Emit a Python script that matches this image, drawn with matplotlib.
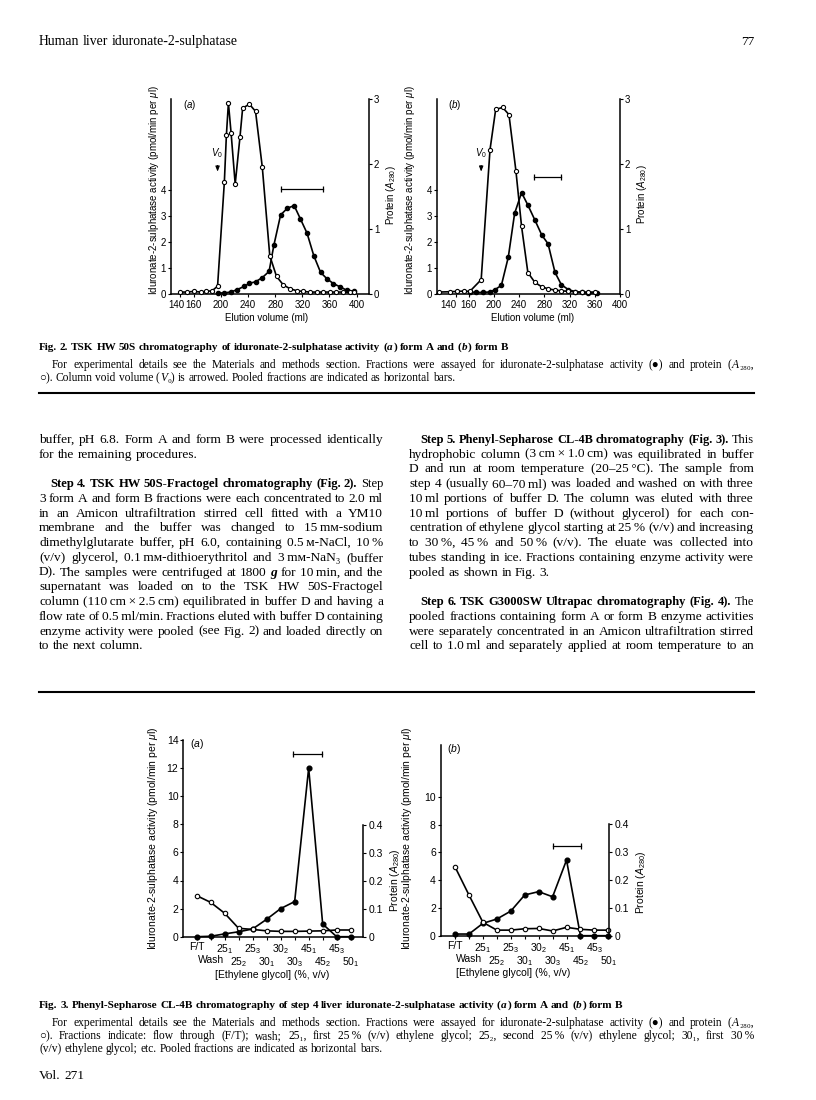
import matplotlib
matplotlib.use("Agg")
import matplotlib.pyplot as plt
from matplotlib.lines import Line2D
from matplotlib.transforms import ScaledTranslation

# ---------------- data ----------------
# Fig. 2(a) form A, TSK HW 50S, elution volume (ml)
vol_prot_a = [140, 150, 160, 170, 178, 187, 195, 205, 208, 211, 215, 221, 228, 232,
              242, 251, 261, 272, 282, 292, 302, 312, 321, 331, 341, 351, 361, 370,
              380, 390, 396]
prot_a = [0.03, 0.03, 0.04, 0.03, 0.04, 0.05, 0.12, 1.72, 2.44, 2.94, 2.47, 1.69, 2.41, 2.86,
          2.92, 2.81, 1.95, 0.59, 0.27, 0.14, 0.08, 0.05, 0.04, 0.03, 0.03, 0.03, 0.03, 0.03,
          0.03, 0.03, 0.03]
vol_act_a = [195, 205, 215, 224, 234, 242, 251, 261, 271, 278, 288, 298, 308, 317, 327,
             337, 347, 357, 366, 376, 386, 396]
act_a = [0.04, 0.04, 0.08, 0.17, 0.29, 0.41, 0.47, 0.63, 0.87, 1.87, 3.04, 3.30, 3.40, 2.90,
         2.34, 1.47, 0.83, 0.57, 0.40, 0.27, 0.14, 0.11]
pool_a = [289, 350]
v0_a = 195

# Fig. 2(b) form B
vol_prot_b = [113, 131, 142, 152, 162, 180, 194, 203, 214, 224, 235, 244, 254, 265, 276,
              286, 297, 307, 318, 329, 339, 350, 360]
prot_b = [0.03, 0.035, 0.04, 0.045, 0.04, 0.22, 2.22, 2.84, 2.87, 2.76, 1.90, 1.04, 0.33,
          0.18, 0.11, 0.08, 0.06, 0.05, 0.04, 0.035, 0.03, 0.03, 0.03]
vol_act_b = [162, 172, 183, 194, 202, 212, 223, 233, 244, 254, 265, 276, 286, 297, 307,
             318, 329, 339, 350, 363]
act_b = [0.08, 0.06, 0.06, 0.08, 0.17, 0.33, 1.42, 3.10, 3.90, 3.42, 2.85, 2.27, 1.93, 0.83,
         0.36, 0.17, 0.09, 0.06, 0.04, 0.04]
pool_b = [264, 307]
v0_b = 180
vol_ticks = [140, 160, 200, 240, 280, 320, 360, 400]

# Fig. 3 Phenyl-Sepharose fractions
fractions = ["F/T", "Wash", "25$_1$", "25$_2$", "25$_3$", "30$_1$", "30$_2$", "30$_3$",
             "45$_1$", "45$_2$", "45$_3$", "50$_1$"]
act_3a = [0.0, 0.03, 0.2, 0.35, 0.55, 1.24, 2.0, 2.5, 12.0, 0.9, 0.0, 0.0]
prot_3a = [0.147, 0.123, 0.084, 0.03, 0.026, 0.021, 0.019, 0.019, 0.02, 0.021, 0.024, 0.024]
pool_3a = [6.9, 8.93]
act_3b = [0.12, 0.12, 0.89, 1.2, 1.77, 2.93, 3.17, 2.8, 5.44, 0.0, 0.0, 0.0]
prot_3b = [0.247, 0.146, 0.048, 0.02, 0.02, 0.025, 0.026, 0.017, 0.03, 0.023, 0.02, 0.02]
pool_3b = [7.05, 9.05]

# ---------------- page setup ----------------
W, H = 816, 1100
plt.rcParams['font.family'] = ['Liberation Sans', 'DejaVu Sans']
plt.rcParams['mathtext.fontset'] = 'custom'
plt.rcParams['mathtext.rm'] = 'Liberation Sans'
plt.rcParams['mathtext.it'] = 'Liberation Sans:italic'
plt.rcParams['mathtext.bf'] = 'Liberation Sans:bold'
SERIF = ['Liberation Serif', 'DejaVu Serif', 'DejaVu Sans']

fig = plt.figure(figsize=(W / 100, H / 100), dpi=100)
renderer = fig.canvas.get_renderer()


def box(x0, y0, x1, y1):
    return [x0 / W, 1 - y1 / H, (x1 - x0) / W, (y1 - y0) / H]


def ptext(x, y, s, **kw):
    return fig.text(x / W, 1 - y / H, s, **kw)


YLAB = "Iduronate-2-sulphatase activity (pmol/min per $\\mu$l)"
PLAB = "Protein ($A_{280}$)"


def style_axes(ax, ax2, size):
    for a in (ax, ax2):
        a.spines['top'].set_visible(False)
        for s in a.spines.values():
            s.set_linewidth(1.1)
        a.tick_params(direction='out', length=2.5, width=0.8, labelsize=size, pad=1)
    ax.spines['right'].set_visible(False)
    ax2.spines['left'].set_visible(False)
    ax2.spines['bottom'].set_visible(False)


def elution_panel(x0, x1, xlim, vol_p, prot, vol_a, act, pool, pool_y, v0, letter, nudge):
    ax = fig.add_axes(box(x0, 99, x1, 294))
    ax2 = ax.twinx()
    ax.set_xlim(*xlim)
    ax.set_ylim(0, 7.5)
    ax2.set_ylim(0, 3)
    ax.plot(vol_a, act, '-o', color='black', lw=1.2, ms=3.0, zorder=3, clip_on=False)
    ax2.plot(vol_p, prot, '-o', color='black', lw=1.2, ms=3.0, mfc='white', mew=0.8,
             clip_on=False)
    ax.plot(pool, [pool_y, pool_y], color='black', lw=0.9, marker='|', ms=4, mew=0.9)
    ax.annotate('', xy=(v0, 4.6), xytext=(v0, 5.05),
                arrowprops=dict(arrowstyle='-|>,head_width=0.12,head_length=0.3',
                                color='black', lw=0.8))
    ax.text(v0 - 1, 5.15, '$V_0$', ha='center', va='bottom', fontsize=7)
    ax.set_xticks(vol_ticks)
    ax.set_yticks([0, 1, 2, 3, 4])
    ax2.set_yticks([0, 1, 2, 3])
    style_axes(ax, ax2, 7)
    ax.tick_params(axis='x', pad=1.5)
    # the first volume label sits a little left of its tick on the page
    lab = ax.xaxis.get_major_ticks()[0].label1
    lab.set_transform(lab.get_transform() + ScaledTranslation(-nudge / 100, 0, fig.dpi_scale_trans))
    ax.text(0.06, 0.97, '($\\mathit{' + letter + '}$)', transform=ax.transAxes,
            fontsize=7, va='center', ha='left')
    return ax


elution_panel(171, 369, (126.3, 418.4), vol_prot_a, prot_a, vol_act_a, act_a,
              pool_a, 4.04, v0_a, 'a', 4)
elution_panel(437, 620, (110, 400), vol_prot_b, prot_b, vol_act_b, act_b,
              pool_b, 4.51, v0_b, 'b', 8)

for x, y, s in [(154, 190, YLAB), (410, 190, YLAB), (391, 195, PLAB), (642, 194, PLAB)]:
    ptext(x, y, s, rotation=90, ha='center', va='center', fontsize=7)
ptext(267, 318, 'Elution volume (ml)', ha='center', va='center', fontsize=7)
ptext(533, 318, 'Elution volume (ml)', ha='center', va='center', fontsize=7)


def glycol_panel(x0, x1, y0, y1, xlim, act, prot, pool, pool_y, ltop, lticks, rtop, letter):
    ax = fig.add_axes(box(x0, y0, x1, y1))
    ax2 = ax.twinx()
    idx = list(range(len(fractions)))
    ax.set_xlim(*xlim)
    ax.set_ylim(0, ltop)
    ax2.set_ylim(0, rtop)
    ax.plot(idx, act, '-o', color='black', lw=1.2, ms=3.4, zorder=3, clip_on=False)
    ax2.plot(idx, prot, '-o', color='black', lw=1.2, ms=3.2, mfc='white', mew=0.8,
             clip_on=False)
    ax.plot(pool, [pool_y, pool_y], color='black', lw=0.9, marker='|', ms=4, mew=0.9)
    # fraction labels alternate between two rows
    ax.set_xticks(idx[0::2])
    ax.set_xticklabels(fractions[0::2])
    ax.set_xticks(idx[1::2], minor=True)
    ax.set_xticklabels(fractions[1::2], minor=True)
    ax.set_yticks(lticks)
    ax2.set_yticks([0, 0.1, 0.2, 0.3, 0.4])
    ax2.set_yticklabels(['0', '0.1', '0.2', '0.3', '0.4'])
    style_axes(ax, ax2, 7.5)
    ax.tick_params(axis='x', which='major', length=2, pad=2)
    ax.tick_params(axis='x', which='minor', length=2, width=0.8, pad=11.3, labelsize=7.5,
                   direction='out')
    ax2.spines['right'].set_bounds(0, 0.4)
    ax.text(0.04, 0.98, '($\\mathit{' + letter + '}$)', transform=ax.transAxes,
            fontsize=7.5, va='center', ha='left')
    return ax


glycol_panel(183.3, 363.3, 740, 936.7, (-0.95, 11.9), act_3a, prot_3a, pool_3a, 12.98,
             14, [0, 2, 4, 6, 8, 10, 12, 14], 0.704, 'a')
glycol_panel(440.7, 609.3, 745, 935.7, (-1.03, 11.07), act_3b, prot_3b, pool_3b, 6.47,
             13.72, [0, 2, 4, 6, 8, 10], 0.685, 'b')

for x, y, s in [(153, 838, YLAB), (407, 838, YLAB), (395, 880, PLAB), (641, 882, PLAB)]:
    ptext(x, y, s, rotation=90, ha='center', va='center', fontsize=7.5)
ptext(272, 975, '[Ethylene glycol] (%, v/v)', ha='center', va='center', fontsize=7.5)
ptext(513, 973, '[Ethylene glycol] (%, v/v)', ha='center', va='center', fontsize=7.5)

# ---------------- typeset text ----------------
_wcache = {}


def style_kw(st):
    return dict(fontweight='bold' if 'b' in st else 'normal',
                fontstyle='italic' if 'i' in st else 'normal')


def piece_width(p, size, st):
    key = (p, size, st)
    if key not in _wcache:
        t = fig.text(0, 0, p, fontsize=size, family=SERIF, **style_kw(st))
        _wcache[key] = t.get_window_extent(renderer).width
        t.remove()
    return _wcache[key]


def split_words(runs):
    words = [[]]
    for s, st in runs:
        for j, p in enumerate(s.split(' ')):
            if j:
                words.append([])
            if p:
                words[-1].append((p, st))
    return [w for w in words if w]


def word_width(w, size):
    em = size * 100 / 72
    return sum(piece_width(p, size, st) for p, st in w) + 0.04 * em * (len(w) - 1)


def natural_width(runs, size, space=0.25):
    words = split_words(runs)
    em = size * 100 / 72
    return sum(word_width(w, size) for w in words) + space * em * (len(words) - 1)


def put_line(x0, x1, y, runs, size, justify=True):
    words = split_words(runs)
    em = size * 100 / 72
    ww = [word_width(w, size) for w in words]
    gap = 0.25 * em
    if justify and len(words) > 1:
        gap = (x1 - x0 - sum(ww)) / (len(words) - 1)
    xw = x0
    for w, wd in zip(words, ww):
        xp = xw
        for p, st in w:
            ptext(xp, y, p, fontsize=size, family=SERIF, va='baseline', ha='left',
                  **style_kw(st))
            xp += piece_width(p, size, st) + 0.04 * em
        xw += wd + gap


def fit(runs, target, base=9.0):
    return base * target / natural_width(runs, base)


def body_line(x0, x1, y, runs, size, justify):
    # shrink only when the line cannot be set with a sensible word space
    if justify:
        bold = any('b' in st for _, st in runs)
        need = natural_width(runs, size, 0.25 if bold else 0.15)
        if need > x1 - x0:
            size = size * (x1 - x0) / need
    put_line(x0, x1, y, runs, size, justify)


# running head
head = [("Human liver iduronate-2-sulphatase", '')]
put_line(39, 237, 45, head, fit(head, 198), justify=False)
ptext(754, 45, '77', fontsize=9.6, family=SERIF, ha='right', va='baseline')

# Fig. 2 caption
cap2_title = [("Fig. 2. TSK HW 50S chromatography of iduronate-2-sulphatase activity (", 'b'),
              ("a", 'bi'), (") form A and (", 'b'), ("b", 'bi'), (") form B", 'b')]
cap_l1 = [("For experimental details see the Materials and methods section. Fractions were "
           "assayed for iduronate-2-sulphatase activity (●) and protein (", ''),
          ("A", 'i'), ("₂₈₀,", '')]
cap2_l2 = [("○). Column void volume (", ''), ("V", 'i'),
           ("₀) is arrowed. Pooled fractions are indicated as horizontal bars.", '')]
put_line(39, 510, 350, cap2_title, fit(cap2_title, 471), justify=False)
csize = 8.3
put_line(52, 754, 368, cap_l1, csize)
put_line(39, 754, 381, cap2_l2, csize, justify=False)

for yr in (393, 692):
    fig.add_artist(Line2D([39 / W, 754 / W], [1 - yr / H] * 2, color='black', lw=1.5,
                          transform=fig.transFigure))

# body text, two columns
BS = 9.6
T = '\u2009'
left_col = [
    (0, 39, [("buffer, pH 6.8. Form A and form B were processed identically", '')], True),
    (1, 39, [("for the remaining procedures.", '')], False),
    (3, 50, [("Step 4. TSK HW 50S-Fractogel chromatography (Fig. 2).", 'b'), (" Step", '')], True),
    (4, 39, [("3 form A and form B fractions were each concentrated to 2.0 ml", '')], True),
    (5, 39, [("in an Amicon ultrafiltration stirred cell fitted with a YM10", '')], True),
    (6, 39, [("membrane and the buffer was changed to 15" + T + "mм-sodium", '')], True),
    (7, 39, [("dimethylglutarate buffer, pH 6.0, containing 0.5" + T + "м-NaCl, 10" + T + "%", '')], True),
    (8, 39, [("(v/v) glycerol, 0.1" + T + "mм-dithioerythritol and 3" + T + "mм-NaN₃ (buffer", '')], True),
    (9, 39, [("D). The samples were centrifuged at 1800 ", ''), ("g", 'bi'),
             (" for 10" + T + "min, and the", '')], True),
    (10, 39, [("supernatant was loaded on to the TSK HW 50S-Fractogel", '')], True),
    (11, 39, [("column (110" + T + "cm" + T + "×" + T + "2.5" + T + "cm) equilibrated in buffer D and having a", '')], True),
    (12, 39, [("flow rate of 0.5" + T + "ml/min. Fractions eluted with buffer D containing", '')], True),
    (13, 39, [("enzyme activity were pooled (see Fig. 2) and loaded directly on", '')], True),
    (14, 39, [("to the next column.", '')], False),
]
right_col = [
    (0, 420, [("Step 5. Phenyl-Sepharose CL-4B chromatography (Fig. 3).", 'b'), (" This", '')], True),
    (1, 409, [("hydrophobic column (3" + T + "cm" + T + "×" + T + "1.0" + T + "cm) was equilibrated in buffer", '')], True),
    (2, 409, [("D and run at room temperature (20–25" + T + "°C). The sample from", '')], True),
    (3, 409, [("step 4 (usually 60–70" + T + "ml) was loaded and washed on with three", '')], True),
    (4, 409, [("10" + T + "ml portions of buffer D. The column was eluted with three", '')], True),
    (5, 409, [("10" + T + "ml portions of buffer D (without glycerol) for each con-", '')], True),
    (6, 409, [("centration of ethylene glycol starting at 25" + T + "% (v/v) and increasing", '')], True),
    (7, 409, [("to 30" + T + "%, 45" + T + "% and 50" + T + "% (v/v). The eluate was collected into", '')], True),
    (8, 409, [("tubes standing in ice. Fractions containing enzyme activity were", '')], True),
    (9, 409, [("pooled as shown in Fig. 3.", '')], False),
    (11, 420, [("Step 6. TSK G3000SW Ultrapac chromatography (Fig. 4).", 'b'), (" The", '')], True),
    (12, 409, [("pooled fractions containing form A or form B enzyme activities", '')], True),
    (13, 409, [("were separately concentrated in an Amicon ultrafiltration stirred", '')], True),
    (14, 409, [("cell to 1.0" + T + "ml and separately applied at room temperature to an", '')], True),
]
for lines, xr in ((left_col, 383), (right_col, 754)):
    for k, xl, runs, just in lines:
        body_line(xl, xr, 439.3 + 14.75 * k + 3.5, runs, BS, just)

# Fig. 3 caption
cap3_title = [("Fig. 3. Phenyl-Sepharose CL-4B chromatography of step 4 liver "
               "iduronate-2-sulphatase activity (", 'b'),
              ("a", 'bi'), (") form A and (", 'b'), ("b", 'bi'), (") form B", 'b')]
cap3_l2 = [("○). Fractions indicate: flow through (F/T); wash; 25₁, first 25" + T + "% (v/v) "
            "ethylene glycol; 25₂, second 25" + T + "% (v/v) ethylene glycol; 30₁, first 30" + T + "%", '')]
cap3_l3 = [("(v/v) ethylene glycol; etc. Pooled fractions are indicated as horizontal bars.", '')]
put_line(39, 623, 1008, cap3_title, fit(cap3_title, 584), justify=False)
put_line(52, 754, 1026, cap_l1, csize)
put_line(39, 754, 1039, cap3_l2, csize)
put_line(39, 754, 1052, cap3_l3, csize, justify=False)

put_line(39, 90, 1079, [("Vol. 271", '')], 9.6, justify=False)

fig.savefig('out.png', dpi=100)
